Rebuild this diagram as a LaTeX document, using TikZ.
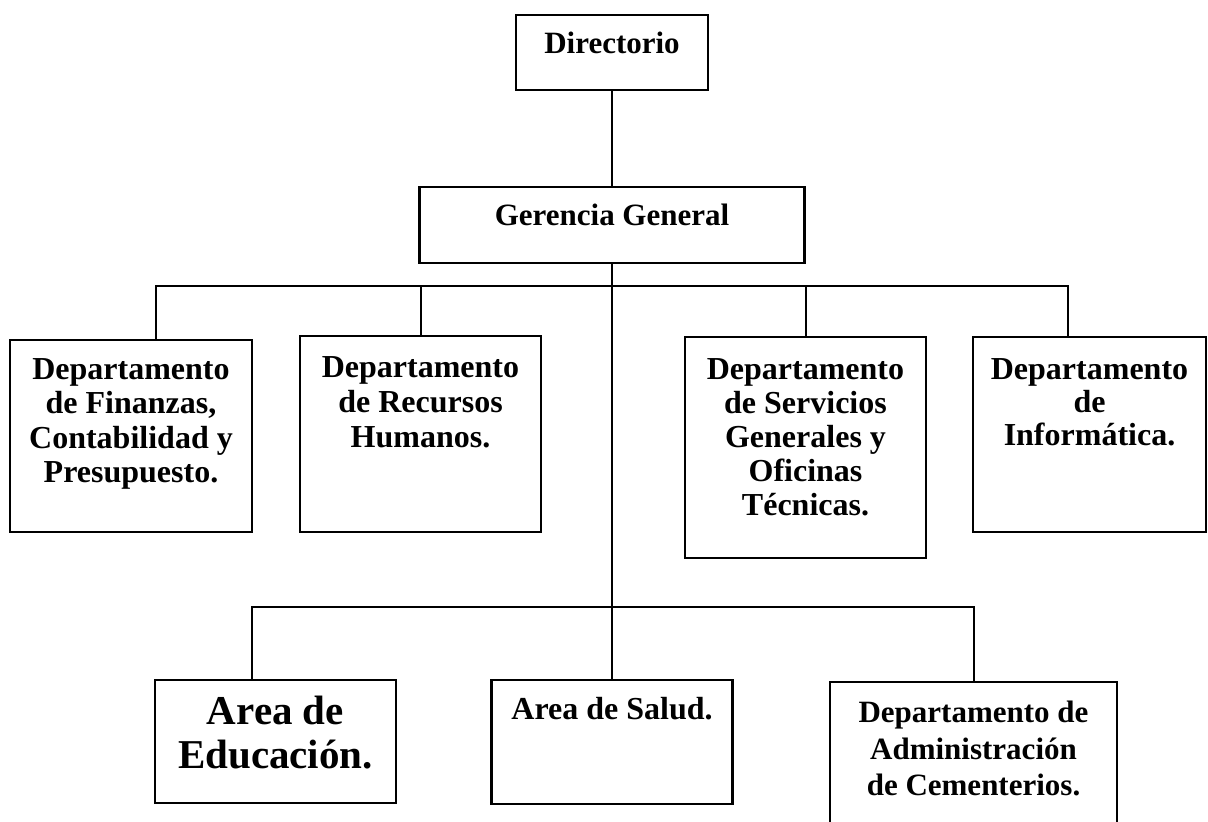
\documentclass[tikz,border=0pt]{standalone}
\usepackage{fontspec}
\setmainfont{Liberation Serif}
\begin{document}
\begin{tikzpicture}[x=0.5pt,y=-0.5pt,
  box/.style={draw, line width=1.2pt, inner sep=0pt},
  conn/.style={line width=1pt},
  lbl/.style={inner sep=0pt, align=center, font=\bfseries\fontsize{16}{17.2}\selectfont}]
\useasboundingbox (0,0) rectangle (1208,822);
\fill[white] (0,0) rectangle (1208,822);
\clip (0,0) rectangle (1208,822);

% boxes
\node[box, minimum width=96pt, minimum height=37.5pt] (dir) at (612,52.5) {};
\node[lbl, anchor=base, font=\bfseries\fontsize{15.5}{17}\selectfont] (tdir) at (612,54) {Directorio};

\node[box, minimum width=192.5pt, minimum height=38pt] (gg) at (612,225) {};
\node[lbl, anchor=base, font=\bfseries\fontsize{15.5}{17}\selectfont] (tgg) at (612,226) {Gerencia General};

\node[box, minimum width=121pt, minimum height=96pt] (fin) at (131,436) {};
\node[lbl, anchor=north] (tfin) at (131,358) {Departamento\\de Finanzas,\\Contabilidad y\\Presupuesto.};

\node[box, minimum width=120.5pt, minimum height=98pt] (rh) at (420.5,434) {};
\node[lbl, anchor=north, font=\bfseries\fontsize{16}{17.5}\selectfont] (trh) at (420.5,356) {Departamento\\de Recursos\\Humanos.};

\node[box, minimum width=120.5pt, minimum height=110.5pt] (sg) at (805.5,447.5) {};
\node[lbl, anchor=north, font=\bfseries\fontsize{16}{17}\selectfont] (tsg) at (805.5,358.5) {Departamento\\de Servicios\\Generales y\\Oficinas\\Técnicas.};

\node[box, minimum width=116.5pt, minimum height=97.5pt] (inf) at (1089.5,434.5) {};
\node[lbl, anchor=north, font=\bfseries\fontsize{16}{16.5}\selectfont] (tinf) at (1089.5,358.5) {Departamento\\de\\Informática.};

\node[box, minimum width=120.5pt, minimum height=61.5pt] (edu) at (275.5,741.5) {};
\node[lbl, anchor=north, font=\bfseries\fontsize{20.5}{22}\selectfont] (tedu) at (275.5,696) {Area de\\Educación.};

\node[box, minimum width=120.5pt, minimum height=62pt] (salud) at (612,742) {};
\node[lbl, anchor=north] (tsalud) at (612,697) {Area de Salud.};

\node[box, minimum width=143.5pt, minimum height=79pt] (cem) at (973.5,761) {};
\node[lbl, anchor=north, font=\bfseries\fontsize{15.5}{18.3}\selectfont] (tcem) at (973.5,700.5) {Departamento de\\Administración\\de Cementerios.};

% connectors
\draw[conn] (dir.south) -- (gg.north);
\draw[conn] (gg.south) -- (salud.north);
\coordinate (b1l) at (156,286);
\coordinate (b1r) at (1068,286);
\draw[conn] (b1l |- fin.north) -- (b1l) -- (b1r) -- (b1r |- inf.north);
\draw[conn] (rh.north) -- (rh.north |- b1l);
\draw[conn] (sg.north) -- (sg.north |- b1l);
\coordinate (b2l) at (252,607);
\draw[conn] (b2l |- edu.north) -- (b2l) -- (b2l -| cem.north) -- (cem.north);
\end{tikzpicture}
\end{document}
